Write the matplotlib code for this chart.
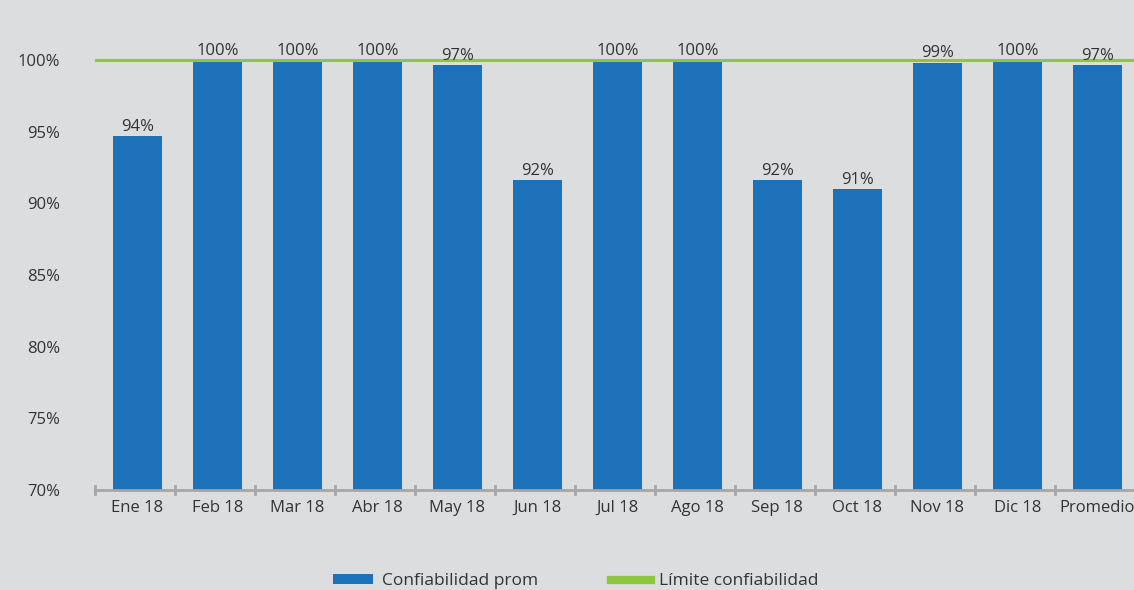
import matplotlib
matplotlib.use('Agg')
import matplotlib.pyplot as plt
from matplotlib.patches import Patch
from matplotlib.lines import Line2D

# datos
meses = ['Ene 18', 'Feb 18', 'Mar 18', 'Abr 18', 'May 18', 'Jun 18', 'Jul 18',
         'Ago 18', 'Sep 18', 'Oct 18', 'Nov 18', 'Dic 18', 'Promedio']
confiabilidad = [94.7, 100.0, 100.0, 100.0, 99.65, 91.6, 100.0,
                 100.0, 91.6, 91.0, 99.8, 100.0, 99.65]
etiquetas = ['94%', '100%', '100%', '100%', '97%', '92%', '100%',
             '100%', '92%', '91%', '99%', '100%', '97%']
limite = 100.0
yticks = [70, 75, 80, 85, 90, 95, 100]

BG = '#dcdddf'
AZUL = '#1d71b8'
VERDE = '#8dc63f'
TXT = '#333333'

plt.rcParams['font.family'] = ['Open Sans', 'DejaVu Sans']

fig = plt.figure(figsize=(11.34, 5.90), dpi=100, facecolor=BG)
ax = fig.add_axes([95 / 1134, 100 / 590, 1040 / 1134, 490 / 590])
ax.set_facecolor(BG)

off = 0.03  # las barras están un poco a la derecha de las marcas
x = [i + off for i in range(len(meses))]
ax.bar(x, [v - 70 for v in confiabilidad], bottom=70, width=0.61,
       color=AZUL, zorder=2)
ax.axhline(limite, color=VERDE, lw=2.2, zorder=3)

for xi, v, lab in zip(x, confiabilidad, etiquetas):
    ax.text(xi, v + 0.1, lab, ha='center', va='bottom', fontsize=12,
            color=TXT, zorder=4)

ax.set_xlim(-0.5, len(meses) - 0.5)
ax.set_ylim(70, 104.19)
ax.set_yticks(yticks)
ax.set_yticklabels([f'{t}%' for t in yticks], fontsize=12, color=TXT)
ax.set_xticks(x)
ax.set_xticklabels(meses, fontsize=12, color=TXT)
ax.tick_params(axis='y', length=0, pad=25)
ax.tick_params(axis='x', length=0, pad=7)

# marcas separadoras entre categorías sobre el eje
for b in [i - 0.5 for i in range(len(meses) + 1)]:
    ax.plot([b, b], [69.75, 70.25], color='#a6a6a6', lw=2, clip_on=False, zorder=3)

for s in ['top', 'right', 'left']:
    ax.spines[s].set_visible(False)
ax.spines['bottom'].set_color('#a6a6a6')
ax.spines['bottom'].set_linewidth(2)

handles = [Patch(facecolor=AZUL, edgecolor='none'),
           Line2D([0], [0], color=VERDE, lw=6)]
fig.legend(handles, ['Confiabilidad prom', 'Límite confiabilidad'],
           loc='center', bbox_to_anchor=(0.508, 0.015), ncol=2, frameon=False,
           fontsize=12.5, handlelength=2.3, handleheight=0.45, handletextpad=0.5,
           columnspacing=4.2, labelcolor=TXT)

fig.savefig('out.png', dpi=100, facecolor=BG)
